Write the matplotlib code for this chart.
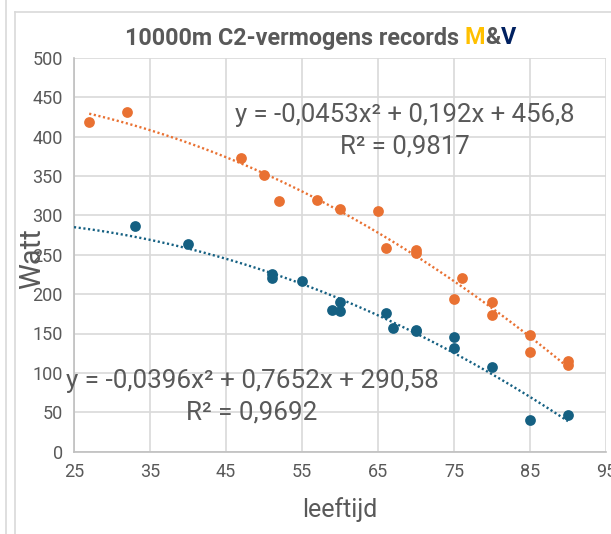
import numpy as np
import matplotlib
matplotlib.use("Agg")
import matplotlib.pyplot as plt
from matplotlib.lines import Line2D

# data
age_o = [27, 32, 47, 50, 52, 57, 60, 65, 66, 70, 70, 75, 76, 80, 80, 85, 85, 90, 90]
watt_o = [419, 431, 373, 351, 318, 319, 308, 305, 259, 256, 252, 194, 221, 190, 173, 148, 127, 115, 110]

age_b = [33, 40, 51, 51, 55, 59, 60, 60, 66, 67, 70, 70, 75, 75, 80, 85, 90]
watt_b = [287, 263, 226, 221, 217, 180, 190, 179, 176, 157, 155, 153, 145, 132, 108, 40, 46]

# trendline coefficients (as shown in the chart)
coef_o = [-0.0453, 0.192, 456.8]
coef_b = [-0.0396, 0.7652, 290.58]
range_o = (27, 90)
range_b = (25, 90)

xticks = [25, 35, 45, 55, 65, 75, 85, 95]
yticks = [0, 50, 100, 150, 200, 250, 300, 350, 400, 450, 500]

orange = "#E97132"
blue = "#156082"
grey = "#595959"

plt.rcParams['font.family'] = ['Roboto', 'DejaVu Sans']

fig = plt.figure(figsize=(6.11, 5.34), dpi=100)
W, H = 611, 534
ax = fig.add_axes([74 / W, 1 - 451.7 / H, (606 - 74) / W, (451.7 - 57.7) / H])

# trendlines
xo = np.linspace(*range_o, 100)
xb = np.linspace(*range_b, 100)
ax.plot(xo, np.polyval(coef_o, xo), color=orange, lw=1.7, ls=(0, (0.9, 1.1)), zorder=3)
ax.plot(xb, np.polyval(coef_b, xb), color=blue, lw=1.7, ls=(0, (0.9, 1.1)), zorder=3)

ax.scatter(age_o, watt_o, s=60, color=orange, zorder=4, linewidths=0)
ax.scatter(age_b, watt_b, s=60, color=blue, zorder=4, linewidths=0)

ax.set_xlim(25, 95)
ax.set_ylim(0, 500)
ax.set_xticks(xticks)
ax.set_yticks(yticks)
ax.grid(True, color="#D9D9D9", lw=1.2)
ax.set_axisbelow(True)
for s in ["top", "right"]:
    ax.spines[s].set_visible(False)
for s in ["left", "bottom"]:
    ax.spines[s].set_color("#BFBFBF")
    ax.spines[s].set_linewidth(1.2)
ax.tick_params(length=0, labelsize=13, labelcolor=grey, pad=8)

ax.set_xlabel("leeftijd", fontsize=18, color=grey, labelpad=12)
ax.set_ylabel("Watt", fontsize=21, color=grey)
ax.yaxis.set_label_coords(-0.052, 0.49)

ax.text(405 / W, 1 - 131 / H, "y = -0,0453x² + 0,192x + 456,8\nR² = 0,9817",
        transform=fig.transFigure, ha="center", va="center", multialignment="center",
        fontsize=18.5, color=grey, linespacing=1.38)
ax.text(252 / W, 1 - 397 / H, "y = -0,0396x² + 0,7652x + 290,58\nR² = 0,9692",
        transform=fig.transFigure, ha="center", va="center", multialignment="center",
        fontsize=18.7, color=grey, linespacing=1.38)

# title with coloured M&V
t1 = fig.text(125 / W, 1 - 38 / H, "10000m C2-vermogens records ", fontsize=16.8,
              fontweight="bold", color=grey, va="center", ha="left")
fig.canvas.draw()
r = fig.canvas.get_renderer()
bb = t1.get_window_extent(r)
x = bb.x1
for part, col in [("M", "#FFC000"), ("&", grey), ("V", "#002060")]:
    t = fig.text(x / W, 1 - 38 / H, part, fontsize=16.8, fontweight="bold",
                 color=col, va="center", ha="left")
    x = t.get_window_extent(r).x1

# frame lines of the chart area
fig.add_artist(Line2D([6 / W, 6 / W], [0, 1], color="#D9D9D9", lw=1.2))
fig.add_artist(Line2D([15 / W, 15 / W], [0, 1 - 12 / H], color="#D9D9D9", lw=1.2))
fig.add_artist(Line2D([15 / W, 1], [1 - 12 / H, 1 - 12 / H], color="#D9D9D9", lw=1.2))

fig.savefig("out.png", dpi=100)
